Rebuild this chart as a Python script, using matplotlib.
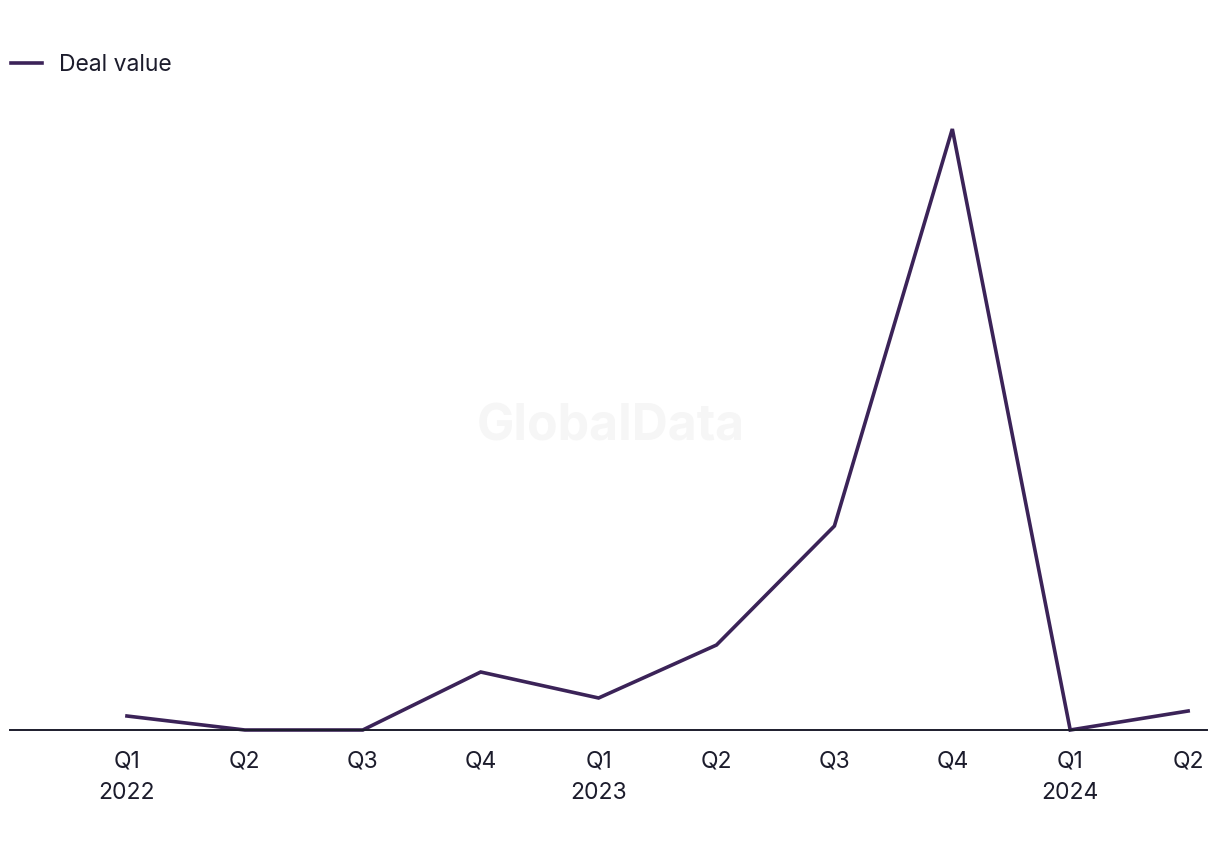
import matplotlib.pyplot as plt

plt.rcParams['font.family'] = ['Inter', 'DejaVu Sans']

# Deal value per quarter (arbitrary units)
quarters = ['Q1\n2022', 'Q2', 'Q3', 'Q4', 'Q1\n2023', 'Q2', 'Q3', 'Q4', 'Q1\n2024', 'Q2']
deal_value = [14, 0, 0, 58, 32, 85, 204, 601, 0, 19]

line_color = '#3b2358'
text_color = '#1c1c2c'

fig = plt.figure(figsize=(12.2, 8.5), dpi=100)
ax = fig.add_axes([10 / 1220, 120 / 850, 1197 / 1220, 640 / 850])

x = range(len(quarters))
line, = ax.plot(x, deal_value, color=line_color, linewidth=2.6,
                solid_joinstyle='miter', label='Deal value', clip_on=False)

ax.set_xlim(-0.992, 9.16)
ax.set_ylim(0, 640)
ax.set_xticks(list(x))
ax.set_xticklabels(quarters, fontsize=16.5, color=text_color, linespacing=1.55)
ax.tick_params(axis='x', length=0, pad=15)
ax.set_yticks([])

for side in ['top', 'right', 'left']:
    ax.spines[side].set_visible(False)
ax.spines['bottom'].set_color(text_color)
ax.spines['bottom'].set_linewidth(1.4)

# watermark
fig.text(611 / 1220, 1 - 427 / 850, 'GlobalData', fontsize=36, fontweight='bold',
         color='#f6f6f6', ha='center', va='center', zorder=0)

fig.legend(handles=[line], loc='upper left', bbox_to_anchor=(3 / 1220, 1 - 46 / 850),
           frameon=False, fontsize=16.5, handlelength=1.35, handletextpad=0.75,
           labelcolor=text_color, borderaxespad=0.0, borderpad=0.35)

plt.savefig('out.png')
